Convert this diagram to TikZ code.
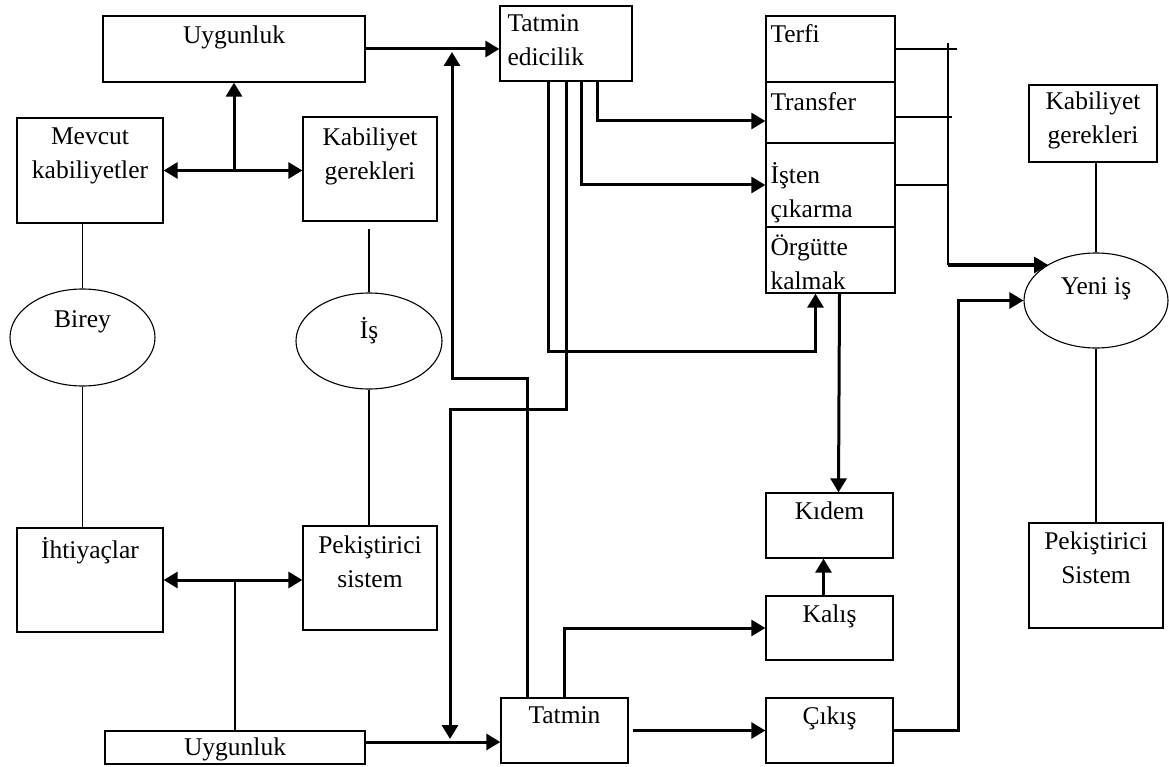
\documentclass[tikz,border=0pt]{standalone}
\usepackage{fontspec}
\setmainfont{Liberation Serif}
\usepackage{tikz}
\usetikzlibrary{positioning,arrows.meta,calc,shapes.geometric}

\tikzset{
  box/.style={draw, line width=1.3pt, inner sep=0pt},
  oval/.style={draw, ellipse, line width=1.1pt, inner sep=0pt},
  txt/.style={font=\fontsize{25.5}{34}\selectfont, inner sep=0pt, align=center, anchor=north},
  ltxt/.style={txt, align=left, anchor=north west},
  link/.style={line width=1.4pt},
  thk/.style={line width=3pt},
  conn/.style={thk, -{Triangle[length=14pt,width=16pt]}},
  bconn/.style={thk, {Triangle[length=14pt,width=16pt]}-{Triangle[length=14pt,width=16pt]}}
}

\begin{document}
\begin{tikzpicture}[x=1pt, y=-1pt]
    \useasboundingbox (0,0) rectangle (1169,767);
    % left side: birey / is
    \node[box, minimum width=262pt, minimum height=66pt] (uygT) at (234,49) {};
    \node[txt] (uygTl) at ([yshift=-10pt]uygT.north) {Uygunluk};
    \node[box, minimum width=146pt, minimum height=105pt] (mevcut) at (90,170.5) {};
    \node[txt] (mevcutl) at ([yshift=-10pt]mevcut.north) {Mevcut\\kabiliyetler};
    \node[box, minimum width=134pt, minimum height=104pt] (kabL) at (370,169) {};
    \node[txt] (kabLl) at ([yshift=-11pt]kabL.north) {Kabiliyet\\gerekleri};
    \node[oval, minimum width=145pt, minimum height=97pt] (birey) at (82.5,337.5) {};
    \node[txt] (bireyl) at (82.5,310) {Birey};
    \node[oval, minimum width=146pt, minimum height=96pt] (is) at (369,341) {};
    \node[txt] (isl) at (369,317) {İş};
    \node[box, minimum width=146pt, minimum height=104pt] (ihtiyac) at (90,580) {};
    \node[txt] (ihtiyacl) at ([yshift=-10pt]ihtiyac.north) {İhtiyaçlar};
    \node[box, minimum width=134pt, minimum height=104pt] (pekL) at (370,578) {};
    \node[txt] (pekLl) at ([yshift=-10pt]pekL.north) {Pekiştirici\\sistem};
    \node[box, minimum width=260pt, minimum height=33pt] (uygB) at (235,747.5) {};
    \node[txt] (uygBl) at ([yshift=-7pt]uygB.north) {Uygunluk};
    % middle
    \node[box, minimum width=132pt, minimum height=75pt] (tatEd) at (566,43.5) {};
    \node[ltxt] (tatEdl) at ([xshift=8pt,yshift=-9pt]tatEd.north west) {Tatmin\\edicilik};
    \node[box, minimum width=127pt, minimum height=65pt] (tatmin) at (564.5,730.5) {};
    \node[txt] (tatminl) at ([yshift=-9pt]tatmin.north) {Tatmin};
    % sonuclar
    \node[box, minimum width=129pt, minimum height=66pt] (terfi) at (830.5,49) {};
    \node[ltxt] (terfil) at ([xshift=5pt,yshift=-9pt]terfi.north west) {Terfi};
    \node[box, minimum width=129pt, minimum height=61pt] (trans) at (830.5,112.5) {};
    \node[ltxt] (transl) at ([xshift=5pt,yshift=-11pt]trans.north west) {Transfer};
    \node[box, minimum width=129pt, minimum height=84pt] (isten) at (830.5,185) {};
    \node[ltxt] (istenl) at ([xshift=5pt,yshift=-20pt]isten.north west) {İşten\\çıkarma};
    \node[box, minimum width=129pt, minimum height=66pt] (orgut) at (830.5,260) {};
    \node[ltxt] (orgutl) at ([xshift=5pt,yshift=-8pt]orgut.north west) {Örgütte\\kalmak};
    \node[box, minimum width=127pt, minimum height=65pt] (kidem) at (829.5,525.5) {};
    \node[txt] (kideml) at ([yshift=-9pt]kidem.north) {Kıdem};
    \node[box, minimum width=127pt, minimum height=64pt] (kalis) at (829.5,628) {};
    \node[txt] (kalisl) at ([yshift=-9pt]kalis.north) {Kalış};
    \node[box, minimum width=127pt, minimum height=65pt] (cikis) at (829.5,730.5) {};
    \node[txt] (cikisl) at ([yshift=-9pt]cikis.north) {Çıkış};
    % right side: yeni is
    \node[box, minimum width=128pt, minimum height=77pt] (kabR) at (1093,123.5) {};
    \node[txt] (kabRl) at ([yshift=-7pt]kabR.north) {Kabiliyet\\gerekleri};
    \node[oval, minimum width=144pt, minimum height=95pt] (yeni) at (1096,300.5) {};
    \node[txt] (yenil) at (1096,277) {Yeni iş};
    \node[box, minimum width=134pt, minimum height=105pt] (pekR) at (1096,575.5) {};
    \node[txt] (pekRl) at ([yshift=-9pt]pekR.north) {Pekiştirici\\Sistem};

    % thin links
    \draw[link] (birey.north |- mevcut.south) -- (birey.north);
    \draw[link] (birey.south) -- (birey.south |- ihtiyac.north);
    \draw[link] ([yshift=-7pt]is.north |- kabL.south) -- (is.north);
    \draw[link] (is.south) -- (is.south |- pekL.north);
    \draw[link] (yeni.north |- kabR.south) -- (yeni.north);
    \draw[link] (yeni.south) -- (pekR.north);
    \draw[link] (ihtiyac.east -| uygB.north) -- (uygB.north);

    % fit arrows
    \draw[bconn] (mevcut.east) -- (mevcut.east -| kabL.west);
    \draw[conn] (mevcut.east -| uygT.south) -- (uygT.south);
    \draw[bconn] (ihtiyac.east) -- (ihtiyac.east -| pekL.west);
    \draw[conn] (uygT.east) -- (uygT.east -| tatEd.west);
    \draw[conn] ([yshift=5.5pt]uygB.east) -- ([yshift=5.5pt]uygB.east -| tatmin.west);

    % feedback loops
    \coordinate (upTip) at (452,52);
    \coordinate (dnTip) at (450,739);
    \draw[conn] ([xshift=-37.5pt]tatmin.north) |- (upTip |- 0,378) -- (upTip);
    \draw[conn] (tatEd.south) |- (dnTip |- 0,409) -- (dnTip);
    \draw[conn] ([xshift=-17.5pt]tatEd.south) |- ([xshift=-15pt,yshift=-58pt]orgut.south) -- ([xshift=-15pt]orgut.south);
    \draw[conn] ([xshift=15pt]tatEd.south) |- (isten.west);
    \draw[conn] ([xshift=31pt]tatEd.south) |- ([yshift=-8.5pt]trans.west);
    \draw[conn] ([xshift=9pt]orgut.south) -- ([xshift=9pt]kidem.north);
    \draw[conn] ([xshift=-6pt]kalis.north) -- ([xshift=-6pt]kidem.south);
    \draw[conn] (tatmin.north) |- (kalis.west);
    \draw[conn] ([xshift=4pt]tatmin.east) -- (cikis.west);

    % to yeni is
    \coordinate (jtop) at (948,43);
    \coordinate (jbot) at (948,265);
    \draw[link] (jtop) -- (jbot);
    \draw[link] ([xshift=-2pt]terfi.east) -- ++(63,0);
    \draw[link] ([yshift=-4.5pt]trans.east) -- ++(56,0);
    \draw[link] (isten.east) -- (isten.east -| jtop);
    \draw[conn] (jbot) -- (jbot -| yeni.143.5);
    \draw[conn] (cikis.east) -- ++(65,0) |- (yeni.west);
\end{tikzpicture}
\end{document}
